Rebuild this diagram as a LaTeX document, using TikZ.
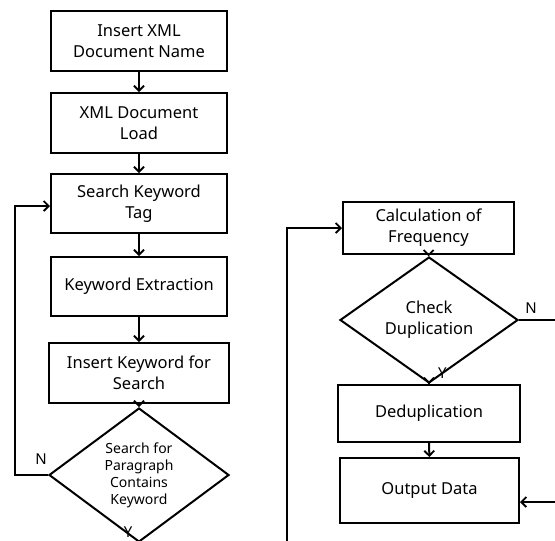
\documentclass[tikz,border=0pt]{standalone}
\usepackage{fontspec}
\setmainfont{Noto Sans}
\usetikzlibrary{shapes.geometric,arrows.meta}
\begin{document}
\begin{tikzpicture}[x=1pt,y=1pt,
  line width=2pt,
  flow/.style={-{Straight Barb[length=5pt,width=10pt,line width=1.8pt]}},
  stepbox/.style={draw,rectangle,align=center,inner sep=0pt,
    font=\fontsize{16.5}{21}\selectfont},
  decide/.style={draw,diamond,align=center,inner sep=0pt,
    font=\fontsize{16.5}{21}\selectfont},
  lbl/.style={font=\fontsize{15}{16}\selectfont,inner sep=0pt}]
\useasboundingbox (0,0) rectangle (555,-541);

% left column
\node[stepbox,minimum width=176pt,minimum height=60pt] (b1) at (139,-41) {Insert XML\\Document Name};
\node[stepbox,minimum width=176pt,minimum height=60pt] (b2) at (139,-123) {XML Document\\Load};
\node[stepbox,minimum width=176pt,minimum height=59pt] (b3) at (139,-203.5) {Search Keyword\\Tag};
\node[stepbox,minimum width=176pt,minimum height=59pt] (b4) at (139,-286.5) {Keyword Extraction};
\node[stepbox,minimum width=180pt,minimum height=60pt] (b5) at (139,-373) {Insert Keyword for\\Search};
\node[decide,minimum width=180pt,minimum height=101pt,
  font=\fontsize{14}{17}\selectfont] (d1) at (139,-475) {Search for\\Paragraph\\Contains\\Keyword};

% right column
\node[stepbox,minimum width=171pt,minimum height=52pt] (b6) at (428.5,-228) {Calculation of\\Frequency};
\node[decide,minimum width=178pt,minimum height=89pt] (d2) at (429,-320) {Check\\Duplication};
\node[stepbox,minimum width=182pt,minimum height=57pt] (b7) at (429,-413.5) {Deduplication};
\node[stepbox,minimum width=179pt,minimum height=65pt] (b8) at (429.5,-490.5) {Output Data};

% straight connectors
\draw[flow] (b1) -- (b2);
\draw[flow] (b2) -- (b3);
\draw[flow] (b3) -- (b4);
\draw[flow] (b4) -- (b5);
\draw[flow] (b5) -- (d1);
\draw[flow] (b6) -- (d2);
\draw[flow] (d2) -- (b7);
\draw[flow] (b7) -- (b8);

% loop back to the keyword tag search
\coordinate (l1) at (15,-475);
\coordinate (l2) at (15,-206);
\draw[flow] (d1.west) -- (l1) -- (l2) -- (l2 -| b3.west);

% exit of the left column and entry of the right column
\coordinate (yout) at (139,-541);
\draw (d1.south) -- (yout);
\coordinate (rin1) at (287,-541);
\coordinate (rin2) at (287,-228);
\draw[flow] (rin1) -- (rin2) -- (b6.west);

% no-duplication branch
\coordinate (nout) at (555,-320);
\draw (d2.east) -- (nout);
\coordinate (nin) at (555,-502);
\draw[flow] (nin) -- (nin -| b8.east);

% branch labels
\node[lbl] (n1) at (41,-459) {N};
\node[lbl,anchor=south] (y1) at (128,-538) {Y};
\node[lbl] (n2) at (531,-308) {N};
\node[lbl,anchor=west] (y2) at (437,-373) {Y};
\end{tikzpicture}
\end{document}
